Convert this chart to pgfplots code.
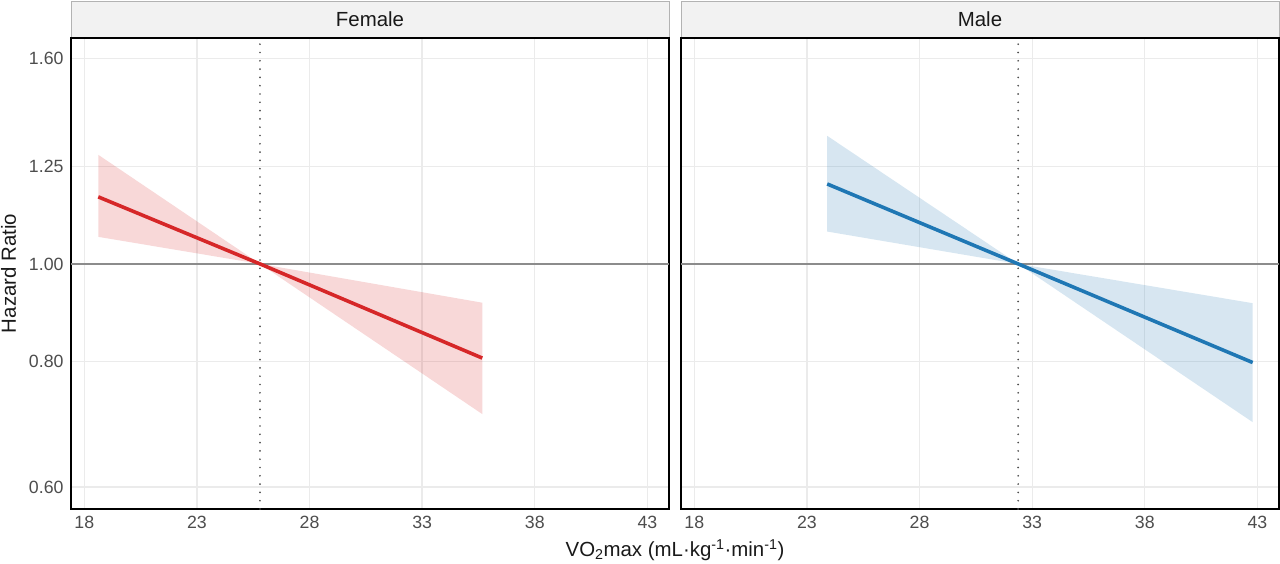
\documentclass[border=0pt]{standalone}
\usepackage{fontspec}
\setmainfont{Liberation Sans}
\usepackage{pgfplots}
\pgfplotsset{compat=1.18}
\definecolor{fred}{HTML}{D62728}
\definecolor{mblue}{HTML}{1F77B4}
\definecolor{gridc}{HTML}{EBEBEB}
\definecolor{tickc}{HTML}{4D4D4D}
\definecolor{stripfill}{HTML}{F2F2F2}
\definecolor{stripdraw}{HTML}{B3B3B3}
\definecolor{refc}{HTML}{8C8C8C}
\definecolor{dotc}{HTML}{4D4D4D}

\pgfplotsset{
 facetpanel/.style={
  scale only axis, width=598bp, height=471bp,
  xmin=17.41, xmax=43.96, ymin=0.5704, ymax=1.678,
  xtick={18,23,28,33,38,43},
  xticklabels={18,23,28,33,38,43},
  ytick={0.6,0.8,1,1.25,1.6},
  grid=major, major grid style={gridc, line width=1.3bp},
  axis line style={black, line width=1.1bp},
  major tick style={draw=none}, minor tick style={draw=none},
  ticklabel style={font=\fontsize{17.8}{20}\selectfont, text=tickc},
  xticklabel style={yshift=-4bp},
  yticklabel style={xshift=-4bp},
  clip=true,
 }
}

\begin{document}
\begin{tikzpicture}
\path[use as bounding box] (0,0) rectangle (1280bp,564bp);

% strips
\draw[fill=stripfill, draw=stripdraw, line width=0.8bp] (71bp,526bp) rectangle (669bp,562.3bp);
\draw[fill=stripfill, draw=stripdraw, line width=0.8bp] (681bp,526bp) rectangle (1279bp,562.3bp);
\node[anchor=base, inner sep=0, font=\fontsize{20.5}{24}\selectfont, text={black!90}] at (370bp,537.3bp) {Female};
\node[anchor=base, inner sep=0, font=\fontsize{20.5}{24}\selectfont, text={black!90}] at (980bp,537.3bp) {Male};

% Female panel
\begin{axis}[ymode=log, facetpanel, at={(71bp,55bp)}, anchor=south west,
  yticklabels={0.60,0.80,1.00,1.25,1.60}]
\addplot[refc, line width=1.3bp] coordinates {(17.41,1) (43.96,1)};
\addplot[fill=fred, fill opacity=0.18, draw=none] coordinates {
 (18.62,1.284) (25.8,1) (35.67,0.915) (35.67,0.709) (25.8,1) (18.62,1.064)} -- cycle;
\addplot[dotc, line width=1.9bp, line cap=round, dash pattern=on 0bp off 8.3bp] coordinates {(25.8,0.5704) (25.8,1.678)};
\addplot[fred, line width=3.6bp] coordinates {(18.62,1.166) (25.8,1) (35.67,0.806)};
\end{axis}

% Male panel
\begin{axis}[ymode=log, facetpanel, at={(681bp,55bp)}, anchor=south west,
  yticklabels={}]
\addplot[refc, line width=1.3bp] coordinates {(17.41,1) (43.96,1)};
\addplot[fill=mblue, fill opacity=0.18, draw=none] coordinates {
 (23.9,1.341) (32.38,1) (42.79,0.914) (42.79,0.696) (32.38,1) (23.9,1.077)} -- cycle;
\addplot[dotc, line width=1.9bp, line cap=round, dash pattern=on 0bp off 8.3bp] coordinates {(32.38,0.5704) (32.38,1.678)};
\addplot[mblue, line width=3.6bp] coordinates {(23.9,1.201) (32.38,1) (42.79,0.798)};
\end{axis}

% axis titles
\node[anchor=base, inner sep=0, font=\fontsize{20.5}{24}\selectfont, text={black!90}] at (675bp,7.3bp)
  {VO\textsubscript{2}max (mL·kg\textsuperscript{-1}·min\textsuperscript{-1})};
\node[rotate=90, anchor=north, inner sep=0, font=\fontsize{20.5}{24}\selectfont, text={black!90}] at (1bp,290.5bp)
  {Hazard Ratio};
\end{tikzpicture}
\end{document}
